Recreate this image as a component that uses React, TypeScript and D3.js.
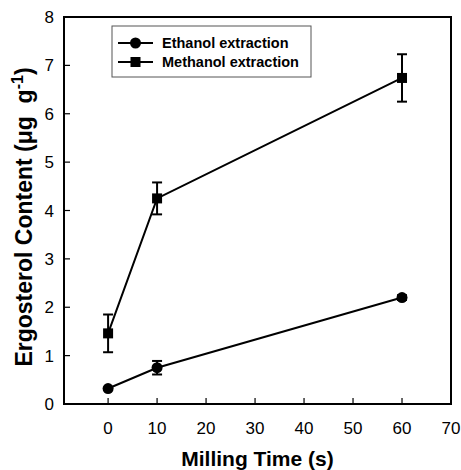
import React from 'react';
import * as d3 from 'd3';

// data
const millingTimes = [0, 10, 60];
const ethanolMeans = [0.32, 0.75, 2.2];
const ethanolErrs = [0, 0.14, 0.05];
const methanolMeans = [1.46, 4.25, 6.74];
const methanolErrs = [0.39, 0.33, 0.49];
const xTicks = [0, 10, 20, 30, 40, 50, 60, 70];
const yTicks = [0, 1, 2, 3, 4, 5, 6, 7, 8];

const font = '"Liberation Sans", Arial, sans-serif';

export default function App() {
  const margin = {top: 17, right: 10, bottom: 66, left: 64};
  const W = 461, H = 470;
  const x = d3.scaleLinear().domain([-9, 70]).range([margin.left, W - margin.right]);
  const y = d3.scaleLinear().domain([0, 8]).range([H - margin.bottom, margin.top]);

  const line = d3.line<number>().x((_, i) => x(millingTimes[i])).y(d => y(d));

  const series = [
    {name: 'Ethanol extraction', means: ethanolMeans, errs: ethanolErrs, shape: 'circle'},
    {name: 'Methanol extraction', means: methanolMeans, errs: methanolErrs, shape: 'square'},
  ];

  const marker = (shape: string, cx: number, cy: number, key?: any) =>
    shape === 'circle'
      ? <circle key={key} cx={cx} cy={cy} r={5.5} fill="#000" />
      : <rect key={key} x={cx - 5} y={cy - 5} width={10} height={10} fill="#000" />;

  const x0 = x(-9), x1 = x(70), y0 = y(0), y1 = y(8);

  return (
    <svg width={W} height={H} style={{position: 'absolute', left: 0, top: 0, background: '#fff'}}>
      {/* frame */}
      <rect x={x0} y={y1} width={x1 - x0} height={y0 - y1} fill="none" stroke="#000" strokeWidth={2} />

      {/* x ticks */}
      {xTicks.map(t => (
        <g key={'x' + t}>
          <line x1={x(t)} x2={x(t)} y1={y0} y2={y0 - 6} stroke="#000" strokeWidth={1.2} />
          <text x={x(t)} y={y0 + 30} textAnchor="middle" fontFamily={font} fontSize={17}>{t}</text>
        </g>
      ))}
      {/* y ticks */}
      {yTicks.map(t => (
        <g key={'y' + t}>
          <line x1={x0} x2={x0 + 6} y1={y(t)} y2={y(t)} stroke="#000" strokeWidth={1.2} />
          <text x={x0 - 10} y={y(t) + 6} textAnchor="end" fontFamily={font} fontSize={17}>{t}</text>
        </g>
      ))}

      {/* series */}
      {series.map(s => (
        <g key={s.name}>
          <path d={line(s.means) || ''} fill="none" stroke="#000" strokeWidth={2} />
          {s.means.map((m, i) => s.errs[i] > 0 && (
            <g key={i} stroke="#000" strokeWidth={2}>
              <line x1={x(millingTimes[i])} x2={x(millingTimes[i])} y1={y(m - s.errs[i])} y2={y(m + s.errs[i])} />
              <line x1={x(millingTimes[i]) - 5} x2={x(millingTimes[i]) + 5} y1={y(m + s.errs[i])} y2={y(m + s.errs[i])} />
              <line x1={x(millingTimes[i]) - 5} x2={x(millingTimes[i]) + 5} y1={y(m - s.errs[i])} y2={y(m - s.errs[i])} />
            </g>
          ))}
          {s.means.map((m, i) => marker(s.shape, x(millingTimes[i]), y(m), i))}
        </g>
      ))}

      {/* legend */}
      <rect x={112} y={26} width={199} height={51} fill="#fff" stroke="#555" strokeWidth={1} />
      {series.map((s, i) => {
        const ly = 43 + i * 19;
        return (
          <g key={'leg' + s.name}>
            <line x1={118} x2={153} y1={ly} y2={ly} stroke="#000" strokeWidth={2} />
            {marker(s.shape, 135.5, ly)}
            <text x={162} y={ly + 5} fontFamily={font} fontSize={14.5} fontWeight="bold">{s.name}</text>
          </g>
        );
      })}

      {/* axis titles */}
      <text x={(x0 + x1) / 2} y={466} textAnchor="middle" fontFamily={font} fontSize={21} fontWeight="bold">Milling Time (s)</text>
      <text transform={`translate(32,${217}) rotate(-90)`} textAnchor="middle" fontFamily={font} fontSize={23} fontWeight="bold">
        Ergosterol Content (μg{'\u00a0\u00a0'}g<tspan dy={-9} fontSize={16}>-1</tspan><tspan dy={9}>)</tspan>
      </text>
    </svg>
  );
}
